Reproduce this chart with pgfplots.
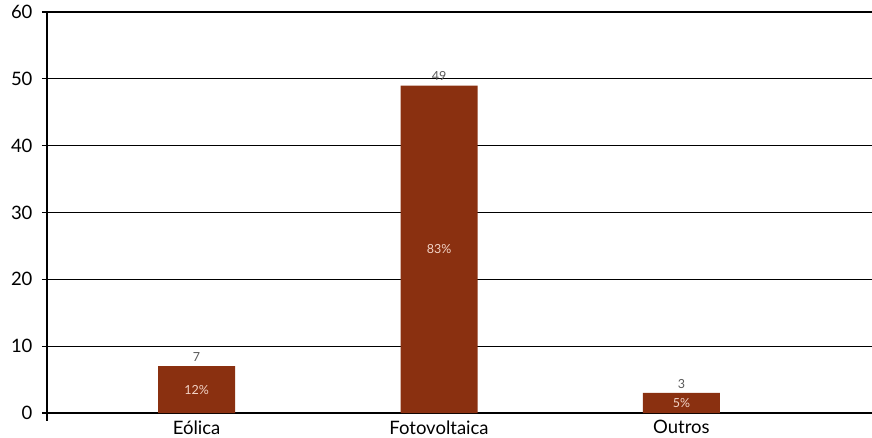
\documentclass[border=0pt]{standalone}
\usepackage{pgfplots}
\pgfplotsset{compat=1.18}
\usepackage{fontspec}
\setmainfont{Lato}
\definecolor{barbrown}{HTML}{8A3010}
\definecolor{pctlabel}{HTML}{F2D3C6}
\definecolor{vallabel}{HTML}{595959}

\begin{document}
\begin{tikzpicture}[x=1pt,y=1pt]
\useasboundingbox (0,0) rectangle (872,437);
\begin{axis}[
  at={(47pt,24pt)}, anchor=south west,
  scale only axis, width=825pt, height=401pt,
  xmin=-0.617, xmax=2.786, ymin=0, ymax=60,
  axis lines*=left,
  axis line style={black, line width=1.8pt},
  ytick={0,10,...,60},
  xtick={0,1,2},
  xticklabels={Eólica,Fotovoltaica,Outros},
  x tick style={draw=none},
  y tick style={black, line width=1.2pt},
  tick align=outside,
  major tick length=5pt,
  ymajorgrids,
  grid style={black, line width=1.2pt},
  /pgf/number format/assume math mode=true,
  yticklabel style={font=\fontsize{18.5}{20}\selectfont, xshift=-6pt},
  xticklabel style={font=\fontsize{18.5}{20}\selectfont, yshift=1pt},
  clip=false,
]
% counts per technology
\addplot[ybar, bar width=0.3175, fill=barbrown, draw=none,
  nodes near coords,
  every node near coord/.append style={font=\fontsize{12.5}{14}\selectfont,
    color=vallabel, anchor=south, yshift=1pt}]
  coordinates {(0,7) (1,49) (2,3)};
% shares, set at mid-height of each bar
\addplot[draw=none, mark=none,
  nodes near coords, point meta=explicit symbolic,
  every node near coord/.append style={font=\fontsize{12.5}{14}\selectfont,
    color=pctlabel, anchor=center}]
  coordinates {(0,3.5) [12\%] (1,24.5) [83\%] (2,1.5) [5\%]};
% category axis end mark
\draw[black, line width=1.8pt] (rel axis cs:0,0) -- ++(0pt,-8pt);
\end{axis}
\end{tikzpicture}
\end{document}
